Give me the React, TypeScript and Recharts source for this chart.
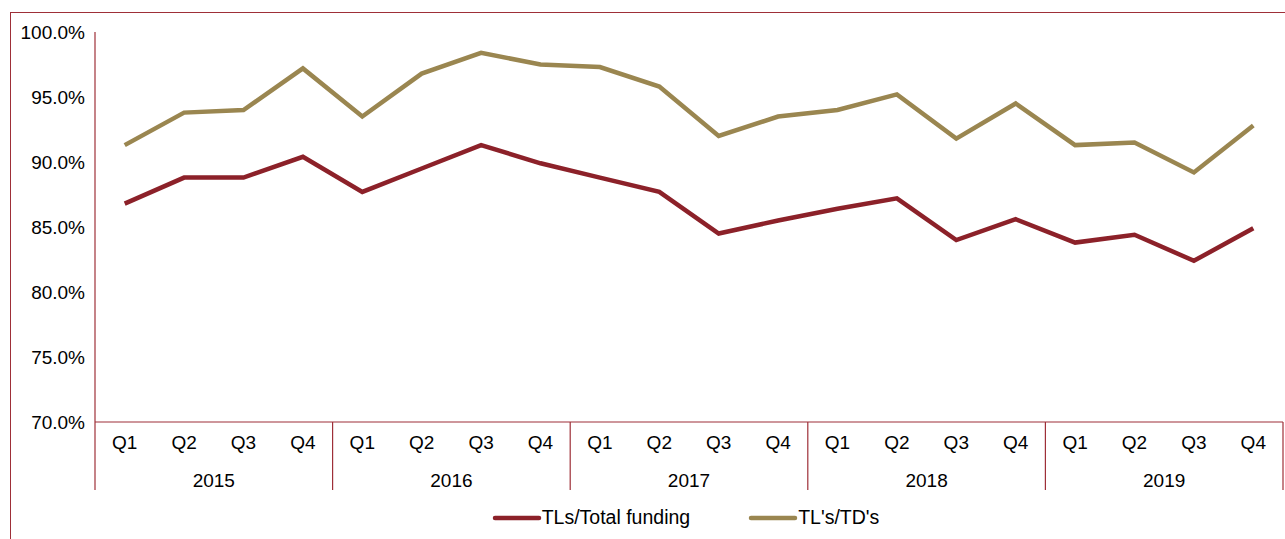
import React from "react";
import { LineChart, Line, XAxis, YAxis, Legend } from "recharts";

const years = ["2015", "2016", "2017", "2018", "2019"];
const quarters = ["Q1", "Q2", "Q3", "Q4"];

const tlsTotalFunding = [
  86.8, 88.8, 88.8, 90.4,
  87.7, 89.5, 91.3, 89.9,
  88.8, 87.7, 84.5, 85.5,
  86.4, 87.2, 84.0, 85.6,
  83.8, 84.4, 82.4, 84.9,
];

const tlsTds = [
  91.3, 93.8, 94.0, 97.2,
  93.5, 96.8, 98.4, 97.5,
  97.3, 95.8, 92.0, 93.5,
  94.0, 95.2, 91.8, 94.5,
  91.3, 91.5, 89.2, 92.8,
];

const yTicks = [70, 75, 80, 85, 90, 95, 100];

const data = tlsTotalFunding.map((v, i) => ({
  q: quarters[i % 4],
  year: years[Math.floor(i / 4)],
  funding: v,
  tds: tlsTds[i],
}));

const RED = "#8c2129";
const GOLD = "#9a8650";
const FRAME = "#9e2f38";
const FONT = "'Liberation Sans', Arial, sans-serif";

const W = 1285;
const H = 539;
const PLOT_LEFT = 95;
const PLOT_RIGHT = 1283;
const PLOT_BOTTOM = 422;
const SEP_BOTTOM = 490;
const BAND = (PLOT_RIGHT - PLOT_LEFT) / data.length;
const PAD = { left: BAND / 2, right: BAND / 2 };

const QuarterTick = (props: any) => {
  const { x, y, payload, index } = props;
  return (
    <g>
      <text
        x={x}
        y={y + 19}
        textAnchor="middle"
        fontSize={19}
        fontFamily={FONT}
        fill="#000"
      >
        {payload.value}
      </text>
      {index % 4 === 0 && (
        <line
          x1={x - BAND / 2}
          x2={x - BAND / 2}
          y1={PLOT_BOTTOM}
          y2={SEP_BOTTOM}
          stroke={FRAME}
          strokeWidth={1.2}
        />
      )}
      {index === data.length - 1 && (
        <line
          x1={x + BAND / 2}
          x2={x + BAND / 2}
          y1={PLOT_BOTTOM}
          y2={SEP_BOTTOM}
          stroke={FRAME}
          strokeWidth={1.2}
        />
      )}
    </g>
  );
};

const YearTick = (props: any) => {
  const { x, y, payload, index } = props;
  if (index % 4 !== 1) return <g />;
  return (
    <text
      x={x + BAND / 2}
      y={y + 27}
      textAnchor="middle"
      fontSize={19}
      fontFamily={FONT}
      fill="#000"
    >
      {payload.value}
    </text>
  );
};

const LegendContent = () => {
  const items = [
    { name: "TLs/Total funding", color: RED },
    { name: "TL's/TD's", color: GOLD },
  ];
  return (
    <div
      style={{
        display: "flex",
        justifyContent: "center",
        alignItems: "center",
        height: 47,
        paddingLeft: 78,
        paddingTop: 4,
        boxSizing: "border-box",
        fontFamily: FONT,
        fontSize: 19.5,
        color: "#000",
      }}
    >
      {items.map((it) => (
        <div
          key={it.name}
          style={{ display: "flex", alignItems: "center", margin: "0 29px" }}
        >
          <svg width={50} height={10}>
            <line
              x1={3}
              x2={47}
              y1={5}
              y2={5}
              stroke={it.color}
              strokeWidth={4.5}
              strokeLinecap="round"
            />
          </svg>
          <span>{it.name}</span>
        </div>
      ))}
    </div>
  );
};

export default function App() {
  return (
    <div
      style={{
        position: "absolute",
        left: 0,
        top: 0,
        width: W,
        height: H,
        overflow: "hidden",
        background: "#fff",
      }}
    >
      <div
        style={{
          position: "absolute",
          left: 10,
          top: 12,
          width: W + 20,
          height: H + 20,
          border: `1.5px solid ${FRAME}`,
          boxSizing: "border-box",
        }}
      />
      <div style={{ position: "absolute", left: 0, top: 0 }}>
        <LineChart
          width={W}
          height={H}
          data={data}
          margin={{ top: 32, right: W - PLOT_RIGHT, bottom: 0, left: 10 }}
        >
          <XAxis
            dataKey="q"
            interval={0}
            padding={PAD}
            tickLine={false}
            axisLine={{ stroke: FRAME, strokeWidth: 1.2 }}
            tick={<QuarterTick />}
            height={30}
          />
          <XAxis
            xAxisId="year"
            dataKey="year"
            interval={0}
            padding={PAD}
            tickLine={false}
            axisLine={false}
            tick={<YearTick />}
            height={40}
          />
          <XAxis
            xAxisId="top"
            orientation="top"
            dataKey="q"
            padding={PAD}
            tick={false}
            tickLine={false}
            axisLine={{ stroke: FRAME, strokeWidth: 1.2 }}
            height={0}
          />
          <YAxis
            domain={[70, 100]}
            ticks={yTicks}
            interval={0}
            tickLine={false}
            axisLine={{ stroke: FRAME, strokeWidth: 1.2 }}
            tickFormatter={(v: number) => `${v.toFixed(1)}%`}
            tick={{ fontSize: 19, fontFamily: FONT, fill: "#000" }}
            tickMargin={4}
            width={85}
          />
          <YAxis
            yAxisId="right"
            orientation="right"
            domain={[70, 100]}
            tick={false}
            tickLine={false}
            axisLine={{ stroke: FRAME, strokeWidth: 1.2 }}
            width={0}
          />
          <Legend verticalAlign="bottom" content={<LegendContent />} />
          <Line
            dataKey="funding"
            name="TLs/Total funding"
            stroke={RED}
            strokeWidth={4.5}
            dot={false}
            type="linear"
            isAnimationActive={false}
          />
          <Line
            dataKey="tds"
            name="TL's/TD's"
            stroke={GOLD}
            strokeWidth={4.5}
            dot={false}
            type="linear"
            isAnimationActive={false}
          />
        </LineChart>
      </div>
    </div>
  );
}
